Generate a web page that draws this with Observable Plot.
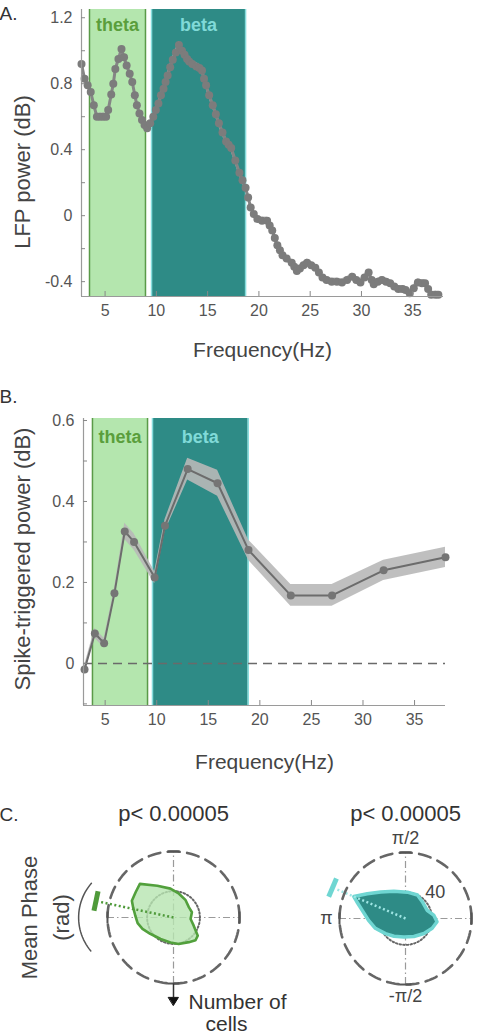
<!DOCTYPE html>
<html>
<head>
<meta charset="utf-8">
<script src="https://cdn.jsdelivr.net/npm/d3@7"></script>
<script src="https://cdn.jsdelivr.net/npm/@observablehq/plot@0.6"></script>
<style>
  body { margin: 0; background: #fff; }
  #fig { position: relative; width: 481px; height: 1036px; overflow: hidden; background: #fff;
         font-family: "Liberation Sans", Arial, Helvetica, sans-serif; }
  #fig svg { position: absolute; overflow: visible; }
</style>
</head>
<body>
<div id="fig"></div>
<script>
// ---------- Panel A: LFP power spectrum ----------
const lfpFreq = [2.7, 3.0, 3.3, 3.6, 3.9, 4.2, 4.5, 4.8, 5.1, 5.3, 5.6, 5.8, 6.0, 6.3, 6.6, 6.85, 7.1, 7.4, 7.65, 7.9,
  8.1, 8.35, 8.6, 8.85, 9.1, 9.4, 9.7, 9.95, 10.2, 10.45, 10.7, 10.9, 11.1, 11.35, 11.6, 11.9, 12.2, 12.5, 12.75, 13.0,
  13.2, 13.5, 13.9, 14.2, 14.45, 14.65, 14.85, 15.15, 15.5, 15.8, 16.1, 16.45, 16.8, 17.05, 17.3, 17.7, 18.1, 18.4, 18.7, 18.95,
  19.2, 19.5, 19.85, 20.3, 20.8, 21.05, 21.3, 21.55, 21.8, 22.05, 22.3, 22.7, 23.2, 23.45, 23.7, 24.0, 24.35, 24.7, 25.1, 25.5,
  25.85, 26.2, 26.6, 27.1, 27.6, 28.1, 28.6, 29.1, 29.5, 29.9, 30.3, 30.7, 31.0, 31.2, 31.6, 32.0, 32.4, 32.8, 33.2, 33.6,
  34.0, 34.3, 34.7, 35.1, 35.5, 35.9, 36.2, 36.5, 36.8, 37.2, 37.5];
const lfpPower = [0.92, 0.83, 0.79, 0.75, 0.67, 0.60, 0.60, 0.60, 0.60, 0.64, 0.735, 0.80, 0.89, 0.95, 1.01, 0.96, 0.91, 0.86, 0.81, 0.73,
  0.67, 0.62, 0.58, 0.55, 0.53, 0.56, 0.60, 0.64, 0.68, 0.73, 0.77, 0.81, 0.85, 0.90, 0.945, 0.99, 1.035, 1.00, 0.975, 0.95,
  0.935, 0.92, 0.905, 0.895, 0.88, 0.83, 0.79, 0.73, 0.67, 0.615, 0.56, 0.505, 0.45, 0.43, 0.41, 0.335, 0.26, 0.215, 0.17, 0.11,
  0.05, 0.01, -0.02, -0.03, -0.03, -0.06, -0.09, -0.135, -0.18, -0.21, -0.24, -0.26, -0.285, -0.31, -0.335, -0.32, -0.30, -0.285, -0.30, -0.315,
  -0.345, -0.375, -0.39, -0.40, -0.40, -0.405, -0.39, -0.37, -0.39, -0.405, -0.375, -0.345, -0.39, -0.415, -0.40, -0.39, -0.40, -0.41, -0.43, -0.445,
  -0.445, -0.45, -0.47, -0.44, -0.405, -0.41, -0.41, -0.445, -0.48, -0.48, -0.48];
const lfpSem = 0.022;

// ---------- Panel B: spike-triggered power ----------
const stpFreq = [3, 4, 4.9, 5.9, 6.9, 7.8, 9.8, 10.8, 13, 15.9, 18.9, 23, 27, 32, 38];
const stpPower = [-0.015, 0.074, 0.05, 0.173, 0.326, 0.30, 0.212, 0.34, 0.48, 0.445, 0.28, 0.168, 0.168, 0.23, 0.262];
const stpSem = [0.01, 0.012, 0.012, 0.012, 0.02, 0.02, 0.015, 0.015, 0.027, 0.032, 0.025, 0.027, 0.027, 0.025, 0.025];

// frequency bands (Hz) as drawn in each panel
const bandNames = ["theta", "beta"];
const bandEdgesA = [[3.48, 8.94], [9.53, 18.7]];
const bandEdgesB = [[3.77, 9.11], [9.59, 18.87]];
const bandFill = ["#b4e6ae", "#2e8b86"];
const bandEdge = ["#5a9a48", "#86dcdc"];
const bandText = ["#5a9e3c", "#80dad8"];

// y-axis ticks
const ticksA = [-0.4, 0, 0.4, 0.8, 1.2];
const minorA = [-0.4, -0.2, 0, 0.2, 0.4, 0.6, 0.8, 1.0, 1.2];
const ticksB = [0, 0.2, 0.4, 0.6];
const minorB = [-0.1, 0, 0.1, 0.2, 0.3, 0.4, 0.5, 0.6];
const ticksX = [5, 10, 15, 20, 25, 30, 35];

// ---------- Panel C: mean phase distributions (cells per phase) ----------
const thetaPhase = [135, 117, 96, 77, 55, 34, 16, -5, -22, -37, -46, -58, -79, -97, -121, -145, -160, -171, 177, 166, 158, 146];
const thetaCells = [72, 54, 44, 37, 32, 28, 29, 26, 33, 46, 48, 44, 41, 38, 38, 43, 50, 55, 58, 63, 68, 69];
const betaPhase = [157, 147, 133, 113, 86, 63, 45, 21, 7, -6, -20, -39, -65, -95, -123, -143, -162, -177, 169, 161];
const betaCells = [85, 69, 55, 45, 40, 40, 36, 35, 43, 48, 43, 36, 30, 28, 32, 38, 48, 56, 67, 78];
const thetaMeanPhase = 168;
const betaMeanPhase = 157;
const pValueText = ["p< 0.00005", "p< 0.00005"];
const radiusMax = 100;
const radiusTick = 40;

const FONT = '"Liberation Sans", Arial, Helvetica, sans-serif';
const fig = document.getElementById("fig");
function place(svg, left, top) {
  svg.style.left = left + "px";
  svg.style.top = top + "px";
  fig.appendChild(svg);
}

function spectrumPanel(o) {
  const rows = o.freq.map((f, i) => ({f, p: o.power[i], lo: o.power[i] - o.sem[i], hi: o.power[i] + o.sem[i]}));
  const [y0, y1] = o.yDomain;
  const bandMarks = [];
  o.edges.forEach(([lo, hi], i) => {
    bandMarks.push(
      Plot.rect([{lo, hi}], {x1: "lo", x2: "hi", y1: y0, y2: y1, fill: bandFill[i]}),
      Plot.ruleX([lo, hi], {y1: y0, y2: y1, stroke: bandEdge[i], strokeWidth: 1.5}),
      Plot.text([bandNames[i]], {x: (lo + hi) / 2, frameAnchor: "top", dy: o.bandLabelDy, text: d => d,
        fill: bandText[i], fontSize: 18, fontWeight: "bold", lineAnchor: "middle"})
    );
  });
  return Plot.plot({
    width: 481, height: o.height,
    marginLeft: o.marginLeft, marginRight: o.marginRight, marginTop: o.marginTop, marginBottom: o.marginBottom,
    x: {domain: o.xDomain},
    y: {domain: o.yDomain},
    style: {fontFamily: FONT, fontSize: "16px", color: "#555", background: "transparent", overflow: "visible"},
    marks: [
      ...bandMarks,
      o.zeroLine ? Plot.ruleY([0], {stroke: "#6a6a6a", strokeWidth: 1.5, strokeDasharray: "9,6"}) : null,
      Plot.areaY(rows, {x: "f", y1: "lo", y2: "hi", fill: "#b8b8b8", fillOpacity: 0.9}),
      Plot.line(rows, {x: "f", y: "p", stroke: o.lineColor, strokeWidth: o.lineWidth}),
      Plot.dot(rows, {x: "f", y: "p", r: o.dotR, fill: o.dotColor}),
      Plot.ruleX([o.xDomain[0]], {stroke: "#9a9a9a", strokeWidth: 1.2}),
      Plot.ruleY([y0], {stroke: "#9a9a9a", strokeWidth: 1.2}),
      Plot.axisX(ticksX, {tickSize: -5, fill: "none", stroke: "#888", label: null}),
      Plot.axisX(ticksX, {tickSize: 0, tickPadding: 8, fill: "#555", fontSize: 16, label: null}),
      Plot.axisY(o.minorTicks, {tickSize: -4, fill: "none", stroke: "#888", label: null}),
      Plot.axisY(o.majorTicks, {tickSize: 0, tickPadding: 9, fill: "#555", fontSize: 16, label: null,
        tickFormat: d => String(d)}),
      Plot.text(["Frequency(Hz)"], {frameAnchor: "bottom", dy: o.xLabelDy, text: d => d, fontSize: 21,
        fill: "#444", lineAnchor: "middle"}),
      Plot.text([o.yLabel], {frameAnchor: "left", dx: o.yLabelDx, dy: o.yLabelDy, rotate: -90, text: d => d,
        fontSize: 22, fill: "#444", textAnchor: "middle", lineAnchor: "middle"}),
      Plot.text([o.letter], {frameAnchor: "top-left", dx: -o.marginLeft - 1, dy: o.letterDy, text: d => d,
        fontSize: 19, fill: "#333", textAnchor: "start", lineAnchor: "middle"})
    ]
  });
}

place(spectrumPanel({
  freq: lfpFreq, power: lfpPower, sem: lfpFreq.map(() => lfpSem), edges: bandEdgesA,
  height: 370, marginLeft: 81, marginRight: 38, marginTop: 9, marginBottom: 74,
  xDomain: [2.7, 38], yDomain: [-0.49, 1.25], majorTicks: ticksA, minorTicks: minorA,
  bandLabelDy: 16, xLabelDy: 54, yLabel: "LFP power (dB)", yLabelDx: -59, yLabelDy: 19,
  letter: "A.", letterDy: 4, lineColor: "#858585", lineWidth: 3, dotR: 4, dotColor: "#7c7c7c", zeroLine: false
}), 0, 0);

place(spectrumPanel({
  freq: stpFreq, power: stpPower, sem: stpSem, edges: bandEdgesB,
  height: 400, marginLeft: 83, marginRight: 36, marginTop: 46, marginBottom: 67,
  xDomain: [2.9, 38], yDomain: [-0.104, 0.605], majorTicks: ticksB, minorTicks: minorB,
  bandLabelDy: 19, xLabelDy: 57, yLabel: "Spike-triggered power (dB)", yLabelDx: -61, yLabelDy: -3,
  letter: "B.", letterDy: -22, lineColor: "#6c6c6c", lineWidth: 2, dotR: 4, dotColor: "#757575", zeroLine: true
}), 0, 372);

// ---------- polar panels ----------
const RAD = Math.PI / 180;
const pol = (a, r) => ({x: r * Math.cos(a * RAD), y: r * Math.sin(a * RAD)});
const ring = (r, a0 = 0, a1 = 360, step = 3) => d3.range(a0, a1 + 0.001, step).map(a => pol(a, r));

function polarPanel(o) {
  const rose = o.phase.map((a, i) => pol(a, o.cells[i]));
  const half = 9;
  const ends = [0, 90, 180, 270].map(a => {
    const c = pol(a, radiusMax), n = {x: -Math.sin(a * RAD), y: Math.cos(a * RAD)};
    return {x1: c.x - n.x * half, y1: c.y - n.y * half, x2: c.x + n.x * half, y2: c.y + n.y * half};
  });
  const barR = 120, barHalf = 15;
  const bc = pol(o.mean, barR), bn = {x: -Math.sin(o.mean * RAD), y: Math.cos(o.mean * RAD)};
  const bar = {x1: bc.x - bn.x * barHalf, y1: bc.y - bn.y * barHalf, x2: bc.x + bn.x * barHalf, y2: bc.y + bn.y * barHalf};
  const mean = {x1: 0, y1: 0, x2: pol(o.mean, barR - 4).x, y2: pol(o.mean, barR - 4).y};
  const D = 113.6;
  return Plot.plot({
    width: o.width, height: 246,
    marginLeft: o.marginLeft, marginRight: o.marginRight, marginTop: o.marginTop, marginBottom: 246 - o.marginTop - 150,
    x: {domain: [-D, D], axis: null},
    y: {domain: [-D, D], axis: null},
    style: {fontFamily: FONT, fontSize: "18px", color: "#333", background: "transparent", overflow: "visible"},
    marks: [
      Plot.ruleX([0], {y1: -radiusMax, y2: radiusMax, stroke: "#9a9a9a", strokeWidth: 1.2, strokeDasharray: "7,3,1.5,3"}),
      Plot.ruleY([0], {x1: -radiusMax, x2: radiusMax, stroke: "#9a9a9a", strokeWidth: 1.2, strokeDasharray: "7,3,1.5,3"}),
      Plot.line(ring(radiusTick), {x: "x", y: "y", curve: "linear-closed", stroke: "#666", strokeWidth: 2,
        strokeDasharray: "1.5,2.2"}),
      Plot.line(rose, {x: "x", y: "y", curve: "linear-closed", fill: o.fill, fillOpacity: o.fillOpacity,
        stroke: o.edge, strokeWidth: o.edgeWidth, strokeLinejoin: "round"}),
      Plot.link([mean], {x1: "x1", y1: "y1", x2: "x2", y2: "y2", stroke: o.meanColor, strokeWidth: 2.5,
        strokeDasharray: "2,2.5"}),
      Plot.link([bar], {x1: "x1", y1: "y1", x2: "x2", y2: "y2", stroke: o.barColor, strokeWidth: 5}),
      Plot.line(ring(radiusMax), {x: "x", y: "y", curve: "linear-closed", stroke: "#666", strokeWidth: 2.6,
        strokeDasharray: "12,7.5"}),
      Plot.link(ends, {x1: "x1", y1: "y1", x2: "x2", y2: "y2", stroke: "#555", strokeWidth: 2}),
      Plot.text([o.title], {frameAnchor: "top", dy: o.titleDy, text: d => d, fontSize: 22, fill: "#333",
        lineAnchor: "middle"}),
      ...o.extras(rose)
    ]
  });
}

// left: theta-band phases, with axis annotations
const thetaExtras = () => {
  const tip = -133, headTop = -121, headHalf = 7.5;
  const head = [{x: -headHalf, y: headTop}, {x: headHalf, y: headTop}, {x: 0, y: tip}];
  const arcCenter = -64.7, arcR = 79;
  const arc = ring(arcR, 139, 221, 3).map(p => ({x: p.x + arcCenter, y: p.y}));
  return [
    Plot.link([{x1: 0, y1: -radiusMax, x2: 0, y2: headTop}], {x1: "x1", y1: "y1", x2: "x2", y2: "y2",
      stroke: "#333", strokeWidth: 1.5}),
    Plot.line(head, {x: "x", y: "y", curve: "linear-closed", fill: "#111", stroke: "#111", strokeWidth: 1}),
    Plot.line(arc, {x: "x", y: "y", stroke: "#555", strokeWidth: 1.5}),
    Plot.text(["Number of"], {frameAnchor: "bottom", dx: 15, dy: 10, text: d => d, textAnchor: "start",
      fontSize: 21, fill: "#333", lineAnchor: "middle"}),
    Plot.text(["cells"], {frameAnchor: "bottom", dx: 53, dy: 32, text: d => d,
      fontSize: 21, fill: "#333", lineAnchor: "middle"}),
    Plot.text(["Mean Phase"], {frameAnchor: "left", dx: -69, rotate: -90, text: d => d,
      fontSize: 22, fill: "#444", textAnchor: "middle", lineAnchor: "middle"}),
    Plot.text(["(rad)"], {frameAnchor: "left", dx: -37, rotate: -90, text: d => d,
      fontSize: 22, fill: "#444", textAnchor: "middle", lineAnchor: "middle"}),
    Plot.text(["C."], {frameAnchor: "top-left", dx: -99, dy: -28, text: d => d, textAnchor: "start",
      fontSize: 19, fill: "#333", lineAnchor: "middle"})
  ];
};

// right: beta-band phases, with angle and radius labels
const betaExtras = () => {
  const tickPos = pol(45, radiusTick);
  return [
    Plot.text(["π/2"], {x: 0, y: radiusMax, dy: -14, text: d => d, fontSize: 18, fill: "#444", lineAnchor: "middle"}),
    Plot.text(["-π/2"], {x: 0, y: -radiusMax, dy: 12, text: d => d, fontSize: 18, fill: "#444", lineAnchor: "middle"}),
    Plot.text(["π"], {x: -radiusMax, y: 0, dx: -13, text: d => d, fontSize: 18, fill: "#444", lineAnchor: "middle"}),
    Plot.text([String(radiusTick)], {x: tickPos.x, y: tickPos.y, dx: 11, dy: -8, text: d => d, fontSize: 18,
      fill: "#444", lineAnchor: "middle"})
  ];
};

place(polarPanel({
  phase: thetaPhase, cells: thetaCells, mean: thetaMeanPhase, title: pValueText[0],
  width: 250, marginLeft: 98, marginRight: 2, marginTop: 52, titleDy: -29,
  fill: "#b6e5b0", fillOpacity: 0.8, edge: "#52a03c", edgeWidth: 2.6, meanColor: "#4f9a3a", barColor: "#4f9a3a",
  extras: thetaExtras
}), 0, 790);

place(polarPanel({
  phase: betaPhase, cells: betaCells, mean: betaMeanPhase, title: pValueText[1],
  width: 231, marginLeft: 80, marginRight: 1, marginTop: 53, titleDy: -30,
  fill: "#2e8b86", fillOpacity: 1, edge: "#6fd6d2", edgeWidth: 3.5, meanColor: "#9fe6e4", barColor: "#6fd6d2",
  extras: betaExtras
}), 250, 790);
</script>
</body>
</html>
